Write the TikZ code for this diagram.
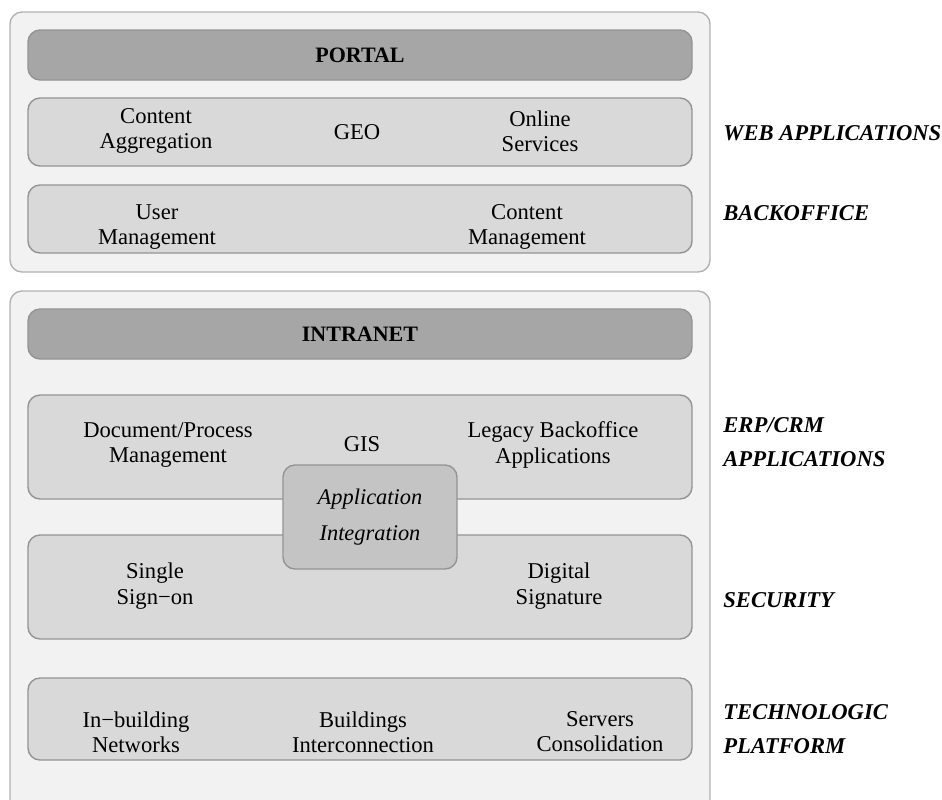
\documentclass[tikz,border=0pt]{standalone}
\usepackage{fontspec}
\setmainfont{Liberation Serif}
\usetikzlibrary{positioning}

\tikzset{
  outerbox/.style={draw=black!30, fill=black!5, rounded corners=6pt, line width=0.7pt},
  layer/.style={draw=black!42, fill=black!15, rounded corners=6pt, line width=0.7pt,
    minimum width=332pt, inner sep=0pt},
  headbar/.style={layer, fill=black!35, minimum height=25pt,
    font=\fontsize{11}{12.5}\selectfont\bfseries},
  integ/.style={draw=black!42, fill=black!23, rounded corners=6pt, line width=0.7pt,
    minimum width=87pt, minimum height=52pt, align=center,
    font=\fontsize{11.2}{12}\selectfont\itshape},
  cell/.style={align=center, font=\fontsize{11.3}{12.6}\selectfont},
  side/.style={anchor=west, align=left, inner sep=0pt,
    font=\fontsize{11.3}{17}\selectfont\bfseries\itshape},
}

\begin{document}
\begin{tikzpicture}[x=0.5pt, y=-0.5pt]
  \useasboundingbox (0,0) rectangle (942,799);
  \clip (0,0) rectangle (942,799);
  % outer frames
  \draw[outerbox] (10,12) rectangle (710,272);
  \draw[outerbox] (10,291) rectangle (710,830);

  % portal part
  \node[headbar] (portal) at (360,55) {PORTAL};
  \node[layer, minimum height=34pt] (webapps) at (360,132) {};
  \node[layer, minimum height=34pt] (backoff) at (360,219) {};
  \node[cell] (aggr) at (156,131) {Content\\Aggregation};
  \node[cell] (geo) at (357,132) {GEO};
  \node[cell] (online) at (540,131) {Online\\Services};
  \node[cell] (userm) at (157,227) {User\\Management};
  \node[cell] (contm) at (527,227) {Content\\Management};

  % intranet part
  \node[headbar] (intranet) at (360,334) {INTRANET};
  \node[layer, minimum height=52pt] (erp) at (360,447) {};
  \node[layer, minimum height=52pt] (secur) at (360,587) {};
  \node[layer, minimum height=41pt] (techno) at (360,719) {};
  \node[cell] (docproc) at (168,445) {Document/Process\\Management};
  \node[cell] (gis) at (362,444) {GIS};
  \node[cell] (legacy) at (553,445) {Legacy Backoffice\\Applications};
  \node[integ] (appint) at (370,517) {Application\\[6pt]Integration};
  \node[cell] (sso) at (155,586) {Single\\Sign{\textminus}on};
  \node[cell] (digsig) at (559,586) {Digital\\Signature};
  \node[cell] (inbuild) at (136,732) {In{\textminus}building\\Networks};
  \node[cell] (bldint) at (363,732) {Buildings\\Interconnection};
  \node[cell] (servers) at (600,732) {Servers\\Consolidation};

  % layer names
  \node[side] (lweb) at (723,133) {WEB APPLICATIONS};
  \node[side] (lback) at (723,213) {BACKOFFICE};
  \node[side] (lerp) at (723,442) {ERP/CRM\\APPLICATIONS};
  \node[side] (lsec) at (723,600) {SECURITY};
  \node[side] (ltech) at (723,729) {TECHNOLOGIC\\PLATFORM};
\end{tikzpicture}
\end{document}
